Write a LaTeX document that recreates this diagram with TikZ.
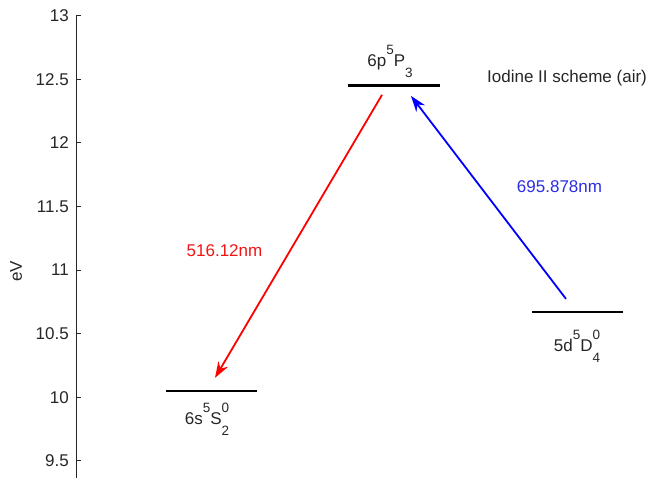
\documentclass[tikz,border=0pt]{standalone}
\usepackage{fontspec}
\setmainfont{Liberation Sans}
\usetikzlibrary{arrows.meta,positioning}

\definecolor{axisgrey}{RGB}{38,38,38}
\definecolor{lineblue}{RGB}{0,0,255}
\definecolor{textblue}{RGB}{45,45,225}
\definecolor{textred}{RGB}{240,20,20}

% raised and lowered term symbols
\newcommand{\levsup}[1]{\raisebox{12pt}{\fontsize{13.5}{14}\selectfont #1}}
\newcommand{\levsub}[1]{\raisebox{-10.5pt}{\fontsize{13.5}{14}\selectfont #1}}

\begin{document}
\begin{tikzpicture}[
        x=1pt, y=127.2pt,
        font=\fontsize{17}{20}\selectfont,
        axis/.style={draw=axisgrey, line width=0.8pt},
        ticklabel/.style={text=axisgrey, anchor=east, inner sep=0pt},
        level/.style={fill=black, inner sep=0pt, minimum height=2.6pt},
        levellabel/.style={text=axisgrey, inner sep=0pt, anchor=base},
        redline/.style={draw=red, line width=1.8pt, -{Stealth[length=16pt,width=11pt]}},
        blueline/.style={draw=lineblue, line width=1.8pt, -{Stealth[length=16pt,width=11pt]}}
    ]
        \useasboundingbox (0,9.365) rectangle (649,13.123);

        % energy axis
        \draw[axis] (76,13) -- (76,9.365);
        \foreach \v [count=\i] in {9.5,10,10.5,11,11.5,12,12.5,13} {
            \draw[axis] (76,\v) -- (81,\v);
            \node[ticklabel] (tick\i) at (69,\v) {\v};
        }
        \node[rotate=90, text=axisgrey] (evlabel) at (16,10.99) {eV};

        % levels
        \node[level, minimum width=92pt] (p3) at (394,12.45) {};
        \node[level, minimum width=91pt] (s2) at (211.5,10.05) {};
        \node[level, minimum width=91pt] (d4) at (577.5,10.67) {};

        \node[levellabel] (p3lbl) at (390,12.599) {6p\levsup{5}P\levsub{3}};
        \node[levellabel] (s2lbl) at (207,9.782) {6s\levsup{5}S\rlap{\levsup{0}}\levsub{2}};
        \node[levellabel] (d4lbl) at (577,10.359) {5d\levsup{5}D\rlap{\levsup{0}}\levsub{4}};
        \node[text=axisgrey, inner sep=0pt, anchor=west] (title) at (487,12.511) {Iodine II scheme (air)};

        % transitions
        \coordinate (redtail) at (382,12.377);
        \coordinate (redtip) at (215,10.152);
        \coordinate (bluetail) at (566,10.773);
        \coordinate (bluetip) at (411,12.369);

        \draw[redline] (redtail) -- (redtip);
        \draw[blueline] (bluetail) -- (bluetip);

        \node[text=textred, inner sep=0pt] (redlbl) at (224.5,11.150) {516.12nm};
        \node[text=textblue, inner sep=0pt] (bluelbl) at (559.5,11.654) {695.878nm};
    \end{tikzpicture}
\end{document}
